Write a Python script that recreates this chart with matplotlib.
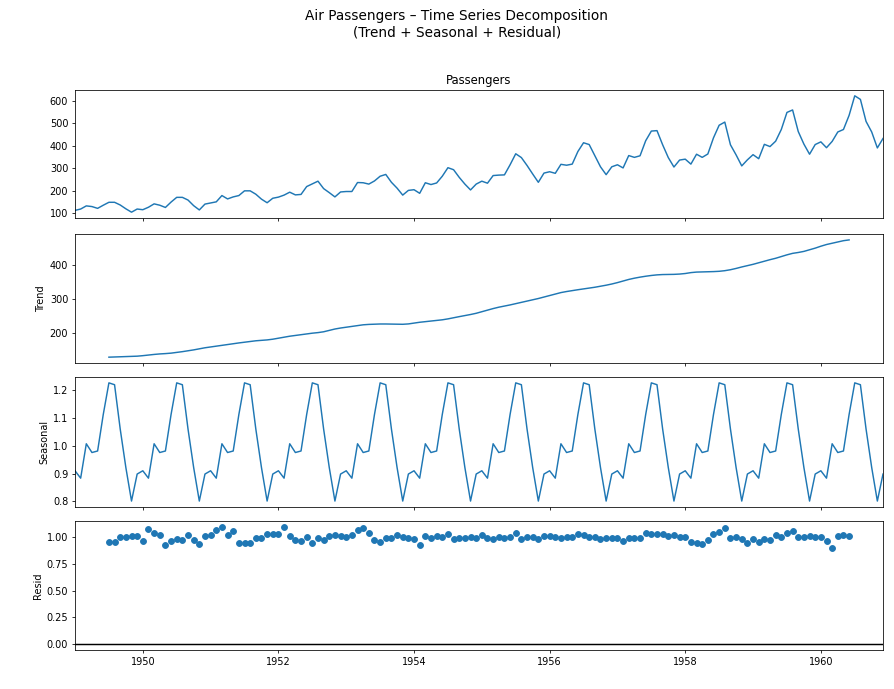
import numpy as np
import matplotlib.pyplot as plt

# monthly air passengers, Jan 1949 - Dec 1960
passengers = [
    112, 118, 132, 129, 121, 135, 148, 148, 136, 119, 104, 118,
    115, 126, 141, 135, 125, 149, 170, 170, 158, 133, 114, 140,
    145, 150, 178, 163, 172, 178, 199, 199, 184, 162, 146, 166,
    171, 180, 193, 181, 183, 218, 230, 242, 209, 191, 172, 194,
    196, 196, 236, 235, 229, 243, 264, 272, 237, 211, 180, 201,
    204, 188, 235, 227, 234, 264, 302, 293, 259, 229, 203, 229,
    242, 233, 267, 269, 270, 315, 364, 347, 312, 274, 237, 278,
    284, 277, 317, 313, 318, 374, 413, 405, 355, 306, 271, 306,
    315, 301, 356, 348, 355, 422, 465, 467, 404, 347, 305, 336,
    340, 318, 362, 348, 363, 435, 491, 505, 404, 359, 310, 337,
    360, 342, 406, 396, 420, 472, 548, 559, 463, 407, 362, 405,
    417, 391, 419, 461, 472, 535, 622, 606, 508, 461, 390, 432,
]
# multiplicative seasonal factors Jan..Dec
seasonal_factors = [0.9102, 0.8836, 1.0074, 0.9759, 0.9814, 1.1128,
                    1.2266, 1.2199, 1.0605, 0.9218, 0.8012, 0.8984]
start_year = 1949
xtick_years = [1950, 1952, 1954, 1956, 1958, 1960]

obs = np.array(passengers, dtype=float)
n = len(obs)
x = start_year + np.arange(n) / 12.0

# centred 2x12 moving average for the trend
w = np.r_[0.5, np.ones(11), 0.5] / 12.0
trend = np.full(n, np.nan)
trend[6:n - 6] = np.convolve(obs, w, mode='valid')
seasonal = np.tile(seasonal_factors, n // 12)
resid = obs / (trend * seasonal)

plt.rcParams['font.family'] = 'DejaVu Sans'
fig = plt.figure(figsize=(894 / 70, 689 / 70), dpi=70)

left, width = 0.0839, 0.9038
boxes = [(0.6836, 0.1858), (0.4731, 0.1872), (0.2642, 0.1887), (0.0566, 0.1872)]
axes = [fig.add_axes([left, b, width, h]) for b, h in boxes]

axes[0].plot(x, obs)
axes[0].set_title('Passengers')
axes[1].plot(x, trend)
axes[1].set_ylabel('Trend')
axes[2].plot(x, seasonal)
axes[2].set_ylabel('Seasonal')
axes[3].plot(x, resid, marker='o', linestyle='none')
axes[3].axhline(0, color='#000000', zorder=-3)
axes[3].set_ylabel('Resid')

for i, ax in enumerate(axes):
    ax.set_xlim(x[0], x[-1])
    ax.set_xticks(xtick_years)
    if i < 3:
        ax.set_xticklabels([])
    else:
        ax.set_xticklabels([str(y) for y in xtick_years])

axes[1].set_yticks([200, 300, 400])
axes[2].set_yticks([0.8, 0.9, 1.0, 1.1, 1.2])
axes[3].set_yticks([0.0, 0.25, 0.5, 0.75, 1.0])

fig.suptitle('Air Passengers – Time Series Decomposition\n(Trend + Seasonal + Residual)',
             x=0.511, y=0.987, fontsize=14)

fig.savefig('out.png', dpi=70)
